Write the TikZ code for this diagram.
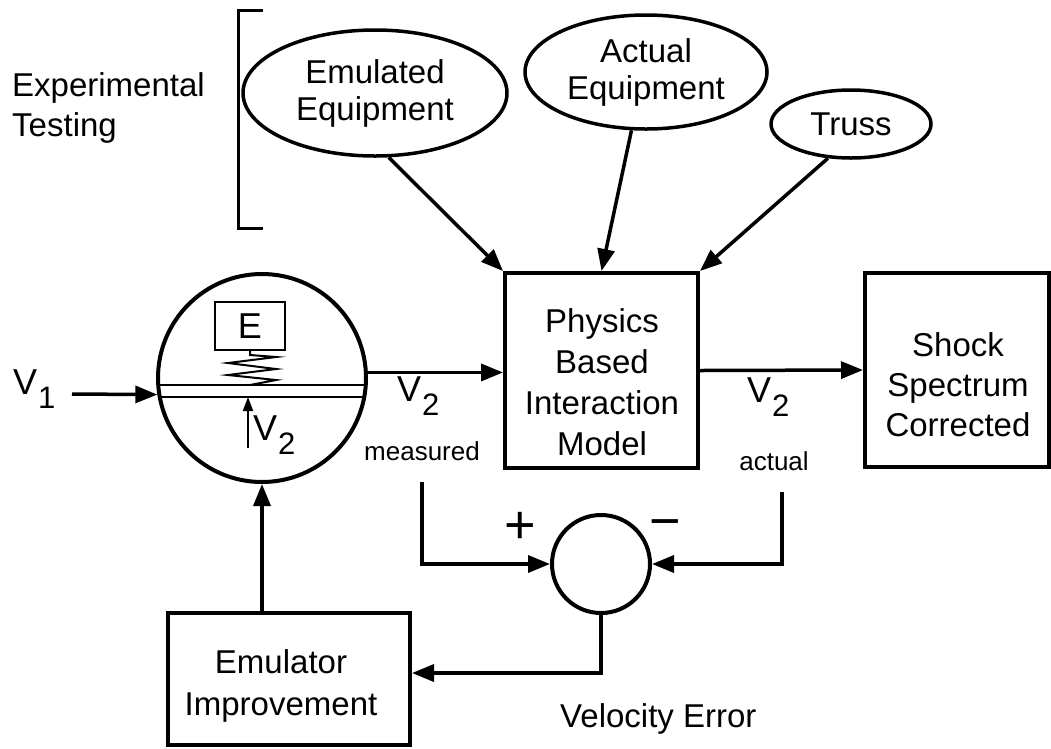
\documentclass[tikz,border=0pt]{standalone}
\usepackage{fontspec}
\setmainfont{Liberation Sans}
\usetikzlibrary{arrows.meta,shapes.geometric,calc}
\newcommand{\Vsub}[1]{{\fontsize{36}{40}\selectfont V}\kern1pt\raisebox{-14pt}{#1}}
\begin{document}
\begin{tikzpicture}[x=1pt,y=-1pt,
  big/.style={font=\fontsize{33}{40}\selectfont, inner sep=0pt, align=center},
  ell/.style={draw, ellipse, line width=3.5pt, inner sep=0pt, align=center, font=\fontsize{33}{37}\selectfont},
  blk/.style={draw, rectangle, line width=4pt, inner sep=0pt},
  conn/.style={line width=3.5pt, -{Triangle[length=22pt,width=17pt]}},
  thinconn/.style={line width=2pt, -{Triangle[length=14pt,width=10pt]}},
  lbl/.style={font=\fontsize{31}{36}\selectfont, inner sep=0pt},
  sml/.style={font=\fontsize{26}{30}\selectfont, inner sep=0pt},
  sign/.style={font=\fontsize{54}{60}\selectfont, inner sep=0pt},
]
\useasboundingbox (0,0) rectangle (1051,748);

% Experimental testing group
\node[big, anchor=west, align=left] (exp) at (12,108) {Experimental\\Testing};
\draw[line width=3pt] (263,10) -- (238,10) -- (238,228) -- (263,228);

\node[ell, minimum width=264pt, minimum height=126pt] (emueq) at (375,93) {Emulated\\Equipment};
\node[ell, minimum width=242pt, minimum height=114pt] (acteq) at (646,72) {Actual\\Equipment};
\node[ell, minimum width=160pt, minimum height=68pt] (truss) at (851,124) {Truss};

% main blocks
\node[blk, minimum width=193pt, minimum height=195pt] (phys) at (601.5,370.5) {};
\node[big, font=\fontsize{33}{41}\selectfont] (physT) at (602,382) {Physics\\Based\\Interaction\\Model};

\node[blk, minimum width=184pt, minimum height=194pt] (shock) at (957,370) {};
\node[big] (shockT) at (958,385) {Shock\\Spectrum\\Corrected};

\node[blk, minimum width=242pt, minimum height=132pt] (emimp) at (289,679) {};
\node[big, font=\fontsize{33}{42}\selectfont] (emimpT) at (281,686) {Emulator\\Improvement};

% emulator (shaker) circle
\node[draw, circle, line width=4pt, minimum size=208pt, inner sep=0pt] (emu) at (262,378) {};
\begin{scope}
  \clip (262,378) circle (104pt);
  \draw[line width=2pt] (150,385) -- (380,385) (150,397) -- (380,397);
\end{scope}
\node[draw, line width=2pt, minimum width=70pt, minimum height=48pt, inner sep=0pt,
      font=\fontsize{36}{40}\selectfont] (ebox) at (250,326) {E};
\draw[line width=2pt] (ebox.south) -- ++(0,4) -- (276,357) -- (228,363) -- (276,369)
  -- (228,375) -- (276,380) -- (250,385);
\coordinate (pbot) at (248,448);
\coordinate (plate) at (248,397);
\draw[thinconn] (pbot) -- (plate);

% labels
\node[lbl, anchor=base west] (v1) at (13,394) {\Vsub{1}};
\node[lbl, anchor=base west] (v2in) at (253,440) {\Vsub{2}};
\node[lbl, anchor=base west] (v2m) at (397,401) {\Vsub{2}};
\node[lbl, anchor=base west] (v2a) at (747,402) {\Vsub{2}};
\node[sml, anchor=base] (meas) at (422,460) {measured};
\node[sml, anchor=base] (act) at (774,470) {actual};

% summing junction
\node[draw, circle, line width=4pt, minimum size=98pt, inner sep=0pt] (sum) at (601,564) {};
\node[sign] (plus) at (520,528) {+};
\node[sign] (minus) at (665,530) {−};
\node[big, anchor=base west] (velerr) at (560,727) {Velocity Error};

% connectors
\coordinate (v1s) at (72,394);
\draw[conn] (v1s) -- (emu.189);
\draw[conn] (emu.3) -- (emu.3 -| phys.west);
\draw[conn] (emueq.-78) -- (phys.north west);
\draw[conn] (acteq.-104) -- (phys.north);
\draw[conn] (truss.-124) -- (phys.north east);
\draw[conn] (phys.east) -- (shock.west);
\coordinate (mtap) at (422,482);
\coordinate (atap) at (782,492);
\draw[conn] (mtap) |- (sum.west);
\draw[conn] (atap) |- (sum.east);
\draw[conn] (sum.south) |- ($(emimp.east)+(0,-6)$);
\draw[conn] (emu.south |- emimp.north) -- (emu.south);
\end{tikzpicture}
\end{document}
